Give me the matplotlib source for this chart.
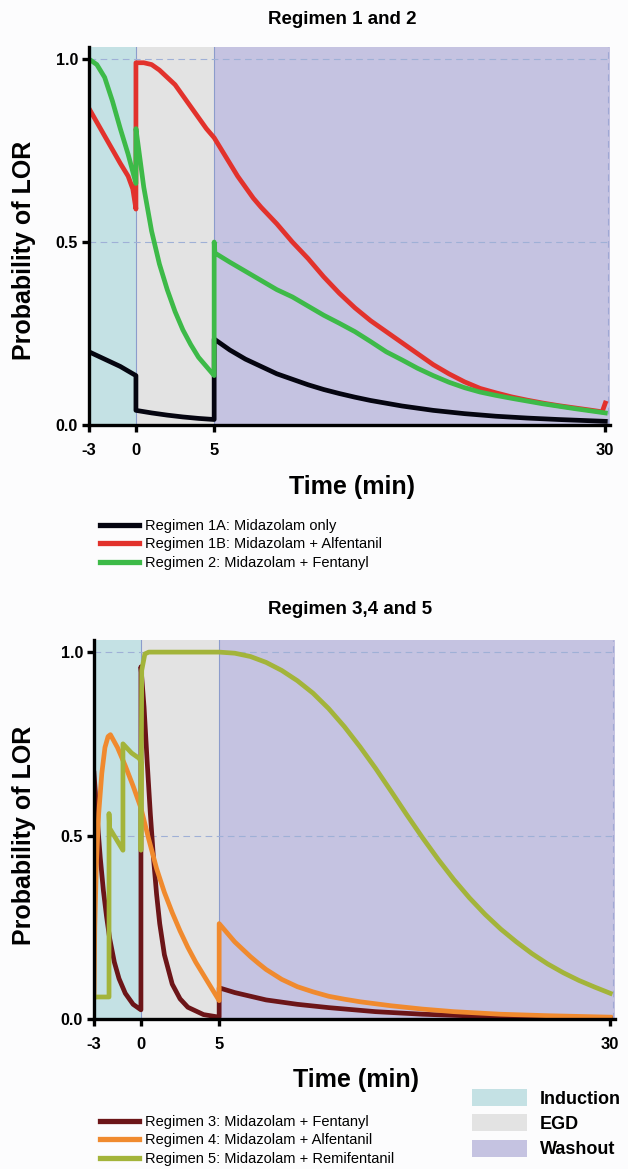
import matplotlib
matplotlib.use('Agg')
import matplotlib.pyplot as plt
from matplotlib.lines import Line2D
from matplotlib.patches import Patch

plt.rcParams['font.family'] = ['Liberation Sans', 'DejaVu Sans']

# Regimen 1 and 2: time (min) vs probability of LOR
t_1a = [-3, -2, -1, 0, 0, 1, 2, 3, 4, 5, 5, 5.5, 6, 7, 8, 9, 10, 11, 12, 13,
        14, 15, 17, 19, 21, 23, 25, 27, 30]
p_1a = [0.20, 0.18, 0.16, 0.135, 0.04, 0.033, 0.027, 0.022, 0.018, 0.015,
        0.235, 0.22, 0.205, 0.18, 0.16, 0.14, 0.125, 0.11, 0.097, 0.086,
        0.076, 0.067, 0.052, 0.04, 0.031, 0.024, 0.019, 0.015, 0.01]

t_1b = [-3, -2, -1, -0.5, -0.2, 0, 0, 0.5, 1, 1.5, 2, 2.5, 3, 3.5, 4, 4.5, 5,
        5.5, 6, 6.5, 7, 7.5, 8, 9, 10, 11, 12, 13, 14, 15, 16, 17, 18, 19, 20,
        21, 22, 23, 24, 25, 26, 27, 28, 29, 29.8, 30]
p_1b = [0.865, 0.79, 0.715, 0.68, 0.645, 0.59, 0.99, 0.99, 0.985, 0.97, 0.95,
        0.93, 0.90, 0.87, 0.84, 0.81, 0.785, 0.75, 0.715, 0.68, 0.65, 0.62,
        0.595, 0.55, 0.50, 0.455, 0.405, 0.36, 0.32, 0.285, 0.255, 0.225,
        0.195, 0.165, 0.14, 0.118, 0.10, 0.088, 0.077, 0.068, 0.06, 0.053,
        0.047, 0.041, 0.036, 0.06]

t_2 = [-3, -2.5, -2, -1.5, -1, -0.5, 0, 0, 0.25, 0.5, 1, 1.5, 2, 2.5, 3, 3.5,
       4, 4.5, 5, 5, 5.05, 6, 7, 8, 9, 10, 11, 12, 13, 14, 15, 16, 17, 18, 19,
       20, 21, 22, 23, 24, 26, 28, 30]
p_2 = [1.0, 0.985, 0.95, 0.885, 0.81, 0.74, 0.66, 0.81, 0.73, 0.65, 0.53,
       0.44, 0.37, 0.31, 0.26, 0.22, 0.185, 0.16, 0.135, 0.5, 0.47, 0.445,
       0.42, 0.395, 0.37, 0.35, 0.325, 0.30, 0.278, 0.255, 0.228, 0.20, 0.178,
       0.155, 0.135, 0.117, 0.102, 0.09, 0.081, 0.073, 0.058, 0.045, 0.033]

# Regimen 3, 4 and 5
t_3 = [-3, -2.8, -2.6, -2.4, -2.2, -2.0, -1.7, -1.4, -1.0, -0.5, 0, 0, 0.2,
       0.4, 0.6, 0.8, 1.0, 1.2, 1.5, 2.0, 2.5, 3, 4, 5, 5, 6, 7, 8, 10, 12, 15,
       18, 22, 26, 30]
p_3 = [0.67, 0.55, 0.44, 0.35, 0.28, 0.22, 0.155, 0.11, 0.07, 0.04, 0.025,
       0.96, 0.85, 0.70, 0.56, 0.44, 0.34, 0.26, 0.175, 0.095, 0.055, 0.032,
       0.012, 0.005, 0.085, 0.072, 0.062, 0.052, 0.04, 0.031, 0.02, 0.013,
       0.007, 0.004, 0.002]

t_4 = [-3, -2.95, -2.85, -2.7, -2.5, -2.3, -2.1, -1.95, -1.5, -1.0, -0.5, 0,
       0.5, 1, 1.5, 2, 2.5, 3, 3.5, 4, 4.5, 5, 5, 5.5, 6, 6.5, 7, 7.5, 8, 9,
       10, 11, 12, 13, 14, 16, 18, 20, 23, 26, 30]
p_4 = [0.06, 0.25, 0.42, 0.56, 0.67, 0.74, 0.77, 0.775, 0.74, 0.69, 0.635,
       0.575, 0.49, 0.41, 0.345, 0.29, 0.24, 0.195, 0.155, 0.12, 0.085, 0.05,
       0.26, 0.235, 0.21, 0.19, 0.17, 0.152, 0.135, 0.108, 0.088, 0.074,
       0.062, 0.054, 0.047, 0.036, 0.027, 0.02, 0.013, 0.009, 0.005]

t_5 = [-3, -2.04, -2.04, -2.0, -1.15, -1.15, -0.6, -0.1, 0, 0, 0.05, 0.25,
       0.5, 5, 6, 7, 8, 9, 10, 11, 12, 13, 14, 15, 16, 17, 18, 19, 20, 21, 22,
       23, 24, 25, 26, 27, 28, 29, 30]
p_5 = [0.06, 0.06, 0.56, 0.52, 0.46, 0.75, 0.725, 0.71, 0.70, 0.46, 0.95,
       0.995, 1.0, 1.0, 0.997, 0.988, 0.972, 0.95, 0.922, 0.888, 0.846, 0.797,
       0.742, 0.683, 0.62, 0.556, 0.494, 0.435, 0.38, 0.33, 0.285, 0.245,
       0.21, 0.178, 0.15, 0.126, 0.105, 0.087, 0.07]

phases = ['Induction', 'EGD', 'Washout']
phase_edges = [-3, 0, 5, 30.3]
phase_colors = ['#c4e1e4', '#e3e3e3', '#c5c3e1']
xticks = [-3, 0, 5, 30]
yticks = [0.0, 0.5, 1.0]

W, H = 628, 1169
fig = plt.figure(figsize=(W / 100, H / 100), dpi=100)
fig.patch.set_facecolor('#fcfcfd')


def setup(ax):
    for i in range(3):
        ax.axvspan(phase_edges[i], phase_edges[i + 1], color=phase_colors[i],
                   lw=0, zorder=0)
    for x in phase_edges[1:3]:
        ax.axvline(x, color='#8c9ccc', lw=0.8, zorder=1)
    ax.axvline(30.2, color='#a0a8d4', lw=0.8, ls=(0, (6, 4)), zorder=1)
    for y in [0.5, 1.0]:
        ax.axhline(y, color='#9fb0d6', lw=0.8, ls=(0, (6, 4)), zorder=1)
    ax.set_xlim(-3, 30.3)
    ax.set_ylim(0, 1.033)
    for s in ['top', 'right']:
        ax.spines[s].set_visible(False)
    for s in ['left', 'bottom']:
        ax.spines[s].set_linewidth(2.4)
        ax.spines[s].set_zorder(5)
    ax.set_xticks(xticks)
    ax.set_xticklabels([str(v) for v in xticks], fontweight='bold', fontsize=12)
    ax.set_yticks(yticks)
    ax.set_yticklabels(['%.1f' % v for v in yticks], fontweight='bold', fontsize=11.5)
    ax.tick_params(axis='x', length=5, width=2.4, pad=8)
    ax.tick_params(axis='y', length=5, width=2.4, pad=3)


lw = 3.4

ax1 = fig.add_axes([89 / W, 1 - 425 / H, 521 / W, 378 / H])
setup(ax1)
ax1.plot(t_1a, p_1a, color='#050510', lw=lw, zorder=3)
ax1.plot(t_1b, p_1b, color='#e2322c', lw=lw, zorder=3)
ax1.plot(t_2, p_2, color='#3dba48', lw=lw, zorder=4)

ax2 = fig.add_axes([94 / W, 1 - 1019 / H, 521 / W, 379 / H])
setup(ax2)
ax2.plot(t_3, p_3, color='#6c1518', lw=lw, zorder=3)
ax2.plot(t_4, p_4, color='#f08a2e', lw=lw, zorder=3)
ax2.plot(t_5, p_5, color='#a3b43a', lw=lw, zorder=4)

fig.text(342 / W, 1 - 19 / H, 'Regimen 1 and 2', ha='center', va='center',
         fontsize=13.5, fontweight='bold')
fig.text(350 / W, 1 - 609 / H, 'Regimen 3,4 and 5', ha='center', va='center',
         fontsize=13.5, fontweight='bold')
for yc in [250, 835]:
    fig.text(24 / W, 1 - yc / H, 'Probability of LOR', ha='center', va='center',
             rotation=90, fontsize=18, fontweight='bold')
fig.text(352 / W, 1 - 487 / H, 'Time (min)', ha='center', va='center',
         fontsize=18, fontweight='bold')
fig.text(356 / W, 1 - 1080 / H, 'Time (min)', ha='center', va='center',
         fontsize=18, fontweight='bold')

leg_kw = dict(loc='upper left', frameon=False, fontsize=10.5, handlelength=2.7,
              handletextpad=0.4, labelspacing=0.3, borderpad=0, borderaxespad=0)
h1 = [Line2D([], [], color=c, lw=3.8) for c in ['#050510', '#e2322c', '#3dba48']]
fig.legend(h1, ['Regimen 1A: Midazolam only',
                'Regimen 1B: Midazolam + Alfentanil',
                'Regimen 2: Midazolam + Fentanyl'],
           bbox_to_anchor=(100 / W, 1 - 519 / H), **leg_kw)
h2 = [Line2D([], [], color=c, lw=3.8) for c in ['#6c1518', '#f08a2e', '#a3b43a']]
fig.legend(h2, ['Regimen 3: Midazolam + Fentanyl',
                'Regimen 4: Midazolam + Alfentanil',
                'Regimen 5: Midazolam + Remifentanil'],
           bbox_to_anchor=(100 / W, 1 - 1115 / H), **leg_kw)

hp = [Patch(facecolor=c, edgecolor='none') for c in phase_colors]
fig.legend(hp, phases, loc='upper left', frameon=False,
           prop={'size': 13, 'weight': 'bold'}, handlelength=3.05,
           handleheight=1.05, handletextpad=0.7, labelspacing=0.38,
           borderpad=0, borderaxespad=0,
           bbox_to_anchor=(472 / W, 1 - 1089 / H))

fig.savefig('out.png', dpi=100, facecolor=fig.get_facecolor())
